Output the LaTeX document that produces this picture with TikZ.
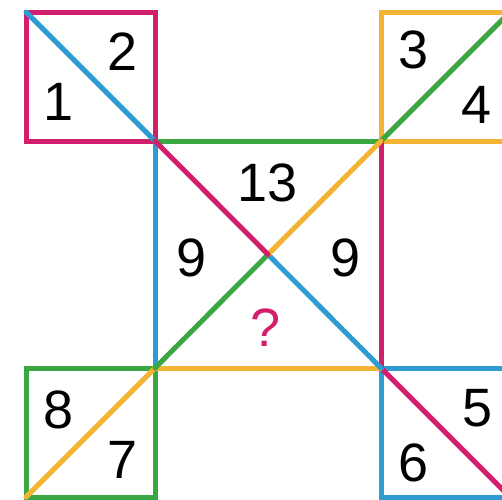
\documentclass[tikz,border=0pt]{standalone}
\usepackage{fontspec}
\setmainfont{Liberation Sans}
\definecolor{cpink}{HTML}{D11F6E}
\definecolor{cblue}{HTML}{2E9BD3}
\definecolor{cgreen}{HTML}{3AA743}
\definecolor{cyellow}{HTML}{F4B433}
\begin{document}
\begin{tikzpicture}[x=1pt,y=-1pt,
  seg/.style={line width=5pt,line cap=round},
  num/.style={font=\fontsize{54}{58}\selectfont,inner sep=0pt,text=black},
  qmark/.style={num,text=cpink}]
\useasboundingbox (0,0) rectangle (502,499);
\fill[white] (0,0) rectangle (502,499);
\clip (0,0) rectangle (502,499);
% corner points
\coordinate (a0) at (26,12);   \coordinate (a1) at (155,12);
\coordinate (a2) at (26,141);  \coordinate (P) at (155,141);
\coordinate (Q) at (381,141);  \coordinate (b0) at (381,12);
\coordinate (b1) at (510,12);  \coordinate (b2) at (510,141);
\coordinate (R) at (155,368);  \coordinate (S) at (381,368);
\coordinate (c0) at (26,368);  \coordinate (c1) at (26,497);
\coordinate (c2) at (155,497);
\coordinate (d0) at (510,368); \coordinate (d1) at (510,497);
\coordinate (d2) at (381,497);
\coordinate (M) at (268,254.5);
% small squares
\draw[seg,cpink] (a0) -- (a1) -- (P) -- (a2) -- cycle;
\draw[seg,cyellow] (b0) -- (b1) -- (b2) -- (Q) -- cycle;
\draw[seg,cgreen] (c0) -- (R) -- (c2) -- (c1) -- cycle;
\draw[seg,cblue] (S) -- (d0) -- (d1) -- (d2) -- cycle;
% small diagonals
\draw[seg,cblue] (a0) -- (P);
\draw[seg,cgreen] (Q) -- (b1);
\draw[seg,cyellow] (c1) -- (R);
\draw[seg,cpink] (S) -- (d1);
% central square
\draw[seg,cgreen] (P) -- (Q);
\draw[seg,cpink] (Q) -- (S);
\draw[seg,cyellow] (R) -- (S);
\draw[seg,cblue] (P) -- (R);
% central diagonals
\draw[seg,cblue] (M) -- (S);
\draw[seg,cgreen] (R) -- (M);
\draw[seg,cyellow] (M) -- (Q);
\draw[seg,cpink] (P) -- (M);
% labels
\node[num] (n1) at (59,102) {1};
\node[num] (n2) at (123,52) {2};
\node[num] (n3) at (414,50) {3};
\node[num] (n4) at (477,105) {4};
\node[num] (n13) at (268,183) {13};
\node[num] (n9l) at (192,258) {9};
\node[num] (n9r) at (346,258) {9};
\node[qmark] (nq) at (266,328) {?};
\node[num] (n8) at (59,410) {8};
\node[num] (n7) at (123,460) {7};
\node[num] (n5) at (478,408) {5};
\node[num] (n6) at (414,463) {6};
\end{tikzpicture}
\end{document}
